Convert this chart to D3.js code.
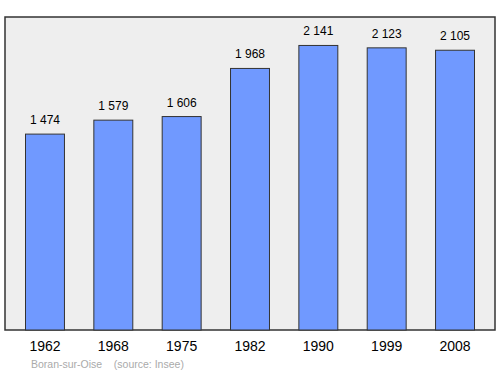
<!DOCTYPE html>
<html>
<head>
<meta charset="utf-8">
<script src="https://cdn.jsdelivr.net/npm/d3@7"></script>
<style>
  body { margin: 0; background: #fff; }
  svg { display: block; font-family: "Liberation Sans", Arial, sans-serif; }
</style>
</head>
<body>
<div class="canvas"></div>
<script>
const years = ['1962', '1968', '1975', '1982', '1990', '1999', '2008'];
const population = [1474, 1579, 1606, 1968, 2141, 2123, 2105];
const caption = 'Boran-sur-Oise    (source: Insee)';

const dims = { width: 500, height: 374 };
const frame = { left: 5, top: 17, right: 495, bottom: 330 };

const svg = d3.select('.canvas')
    .append('svg')
    .attr('width', dims.width)
    .attr('height', dims.height);

const x = d3.scaleBand()
    .domain(years)
    .range([frame.left, frame.right])
    .paddingInner(0.43)
    .paddingOuter(0.3);

const y = d3.scaleLinear()
    .domain([0, d3.max(population) * 1.1])
    .range([frame.bottom, frame.top]);

// background frame
svg.append('rect')
    .attr('x', frame.left)
    .attr('y', frame.top)
    .attr('width', frame.right - frame.left)
    .attr('height', frame.bottom - frame.top)
    .attr('fill', '#eeeeee')
    .attr('stroke', '#333')
    .attr('stroke-width', 1.5);

const data = years.map((yr, i) => ({ year: yr, value: population[i] }));

svg.selectAll('.bar')
    .data(data)
    .enter()
    .append('rect')
    .attr('class', 'bar')
    .attr('x', d => x(d.year))
    .attr('y', d => y(d.value))
    .attr('width', x.bandwidth())
    .attr('height', d => y(0) - y(d.value))
    .attr('fill', '#7099ff')
    .attr('stroke', '#333')
    .attr('stroke-width', 1);

// value labels
svg.selectAll('.val')
    .data(data)
    .enter()
    .append('text')
    .attr('class', 'val')
    .attr('x', d => x(d.year) + x.bandwidth() / 2)
    .attr('y', d => y(d.value) - 10)
    .attr('text-anchor', 'middle')
    .attr('font-size', 12)
    .attr('fill', '#000')
    .text(d => d3.format(',')(d.value).replace(',', ' '));

// year axis
const axis = svg.append('g')
    .attr('transform', `translate(0, ${frame.bottom})`)
    .call(d3.axisBottom(x).tickSize(0).tickPadding(11));
axis.select('.domain').remove();
axis.selectAll('text')
    .attr('font-size', 14)
    .attr('font-family', '"Liberation Sans", Arial, sans-serif')
    .attr('fill', '#000');

svg.append('text')
    .attr('x', 31)
    .attr('y', 368)
    .attr('font-size', 10.5)
    .attr('fill', '#aaa')
    .style('white-space', 'pre')
    .text(caption);
</script>
</body>
</html>
